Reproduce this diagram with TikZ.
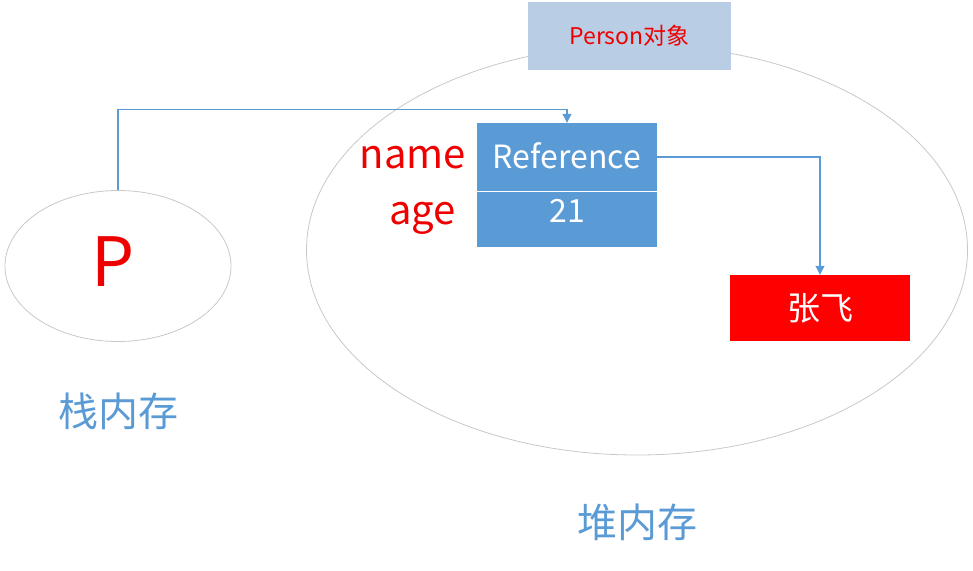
\documentclass[tikz,border=0pt]{standalone}
\usepackage{fontspec}
\setmainfont{Noto Sans CJK SC}
\usetikzlibrary{shapes.geometric,arrows.meta}
\definecolor{memblue}{HTML}{5B9BD5}
\definecolor{objblue}{HTML}{B9CDE5}
\definecolor{ringgray}{HTML}{C8C8C8}
\definecolor{labred}{HTML}{EE0000}

\tikzstyle{memring} = [ellipse, draw=ringgray, line width=0.8pt, inner sep=0pt]
\tikzstyle{fieldbox} = [rectangle, fill=memblue, text=white, minimum width=180pt, inner sep=0pt, font=\fontsize{32pt}{36pt}\selectfont]
\tikzstyle{fieldname} = [anchor=east, text=labred, inner sep=0pt, font=\fontsize{40pt}{44pt}\selectfont]
\tikzstyle{memtitle} = [text=memblue, font=\fontsize{40pt}{44pt}\selectfont]
\tikzstyle{link} = [draw=memblue, line width=1.1pt, -{Triangle[width=9pt,length=9pt]}]

\begin{document}
\begin{tikzpicture}[x=1pt, y=-1pt]
        \useasboundingbox (0,0) rectangle (973,570);
        \node [memring, minimum width=661pt, minimum height=410pt] (heap) at (637,250) {};
        \node [memring, minimum width=226pt, minimum height=151pt] (stack) at (118,266) {};
        \node [text=labred, font=\fontsize{68pt}{72pt}\selectfont] (p) at (113,262) {P};
        \node [memtitle] (stacklabel) at (118,411) {栈内存};
        \node [memtitle] (heaplabel) at (637,522) {堆内存};

        \node [rectangle, fill=objblue, text=labred, minimum width=203pt, minimum height=68pt, font=\fontsize{23pt}{26pt}\selectfont] (person) at (629.5,36) {Person对象};

        \node [fieldbox, minimum height=68pt, text height=23pt, text depth=0pt] (namebox) at (567,157) {Reference};
        \node [fieldbox, minimum height=56pt, text height=22pt, text depth=16pt] (agebox) at (567,219) {21};
        \draw [white, line width=0.8pt] (namebox.south west) -- (namebox.south east);
        \node [fieldname] (namelabel) at (466,158) {name};
        \node [fieldname] (agelabel) at (456,218) {age};

        \node [rectangle, fill=red, text=white, minimum width=180pt, minimum height=66pt, font=\fontsize{33pt}{36pt}\selectfont] (zhangfei) at (820,308) {张飞};

        \draw [link] (stack.north) -- ++(0,-81) -| (namebox.north);
        \draw [link] (namebox.east) -| (zhangfei.north);
\end{tikzpicture}
\end{document}
